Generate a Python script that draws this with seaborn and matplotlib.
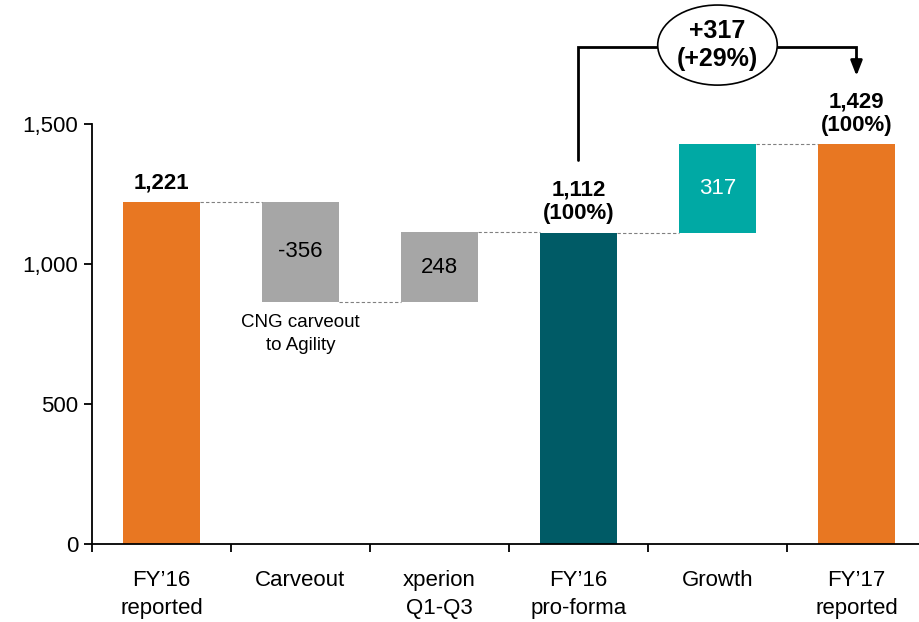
import numpy as np
import pandas as pd
import matplotlib.pyplot as plt
import seaborn as sns
from matplotlib.patches import Ellipse

# waterfall data (EUR m)
steps = ["FY\u201916\nreported", "Carveout", "xperion\nQ1-Q3",
         "FY\u201916\npro-forma", "Growth", "FY\u201917\nreported"]
amounts = [1221, -356, 248, 1112, 317, 1429]
kinds = ["total", "delta", "delta", "total", "delta", "total"]
bar_labels = ["1,221", "-356", "248", "1,112\n(100%)", "317", "1,429\n(100%)"]
colors = ["#E87722", "#A6A6A6", "#A6A6A6", "#005B66", "#00A9A4", "#E87722"]
growth_label = "+317\n(+29%)"
note = "CNG carveout\nto Agility"

# work out bottoms / tops of every bar
bottoms, tops = [], []
running = 0
for a, k in zip(amounts, kinds):
    if k == "total":
        bottoms.append(0)
        tops.append(a)
        running = a
    else:
        lo, hi = sorted([running, running + a])
        bottoms.append(lo)
        tops.append(hi)
        running = running + a

df = pd.DataFrame({"step": steps, "height": np.array(tops) - np.array(bottoms)})

sns.set_style("white")
plt.rcParams["font.family"] = ["Liberation Sans", "DejaVu Sans"]
plt.rcParams["text.color"] = "black"
plt.rcParams["xtick.color"] = "black"
plt.rcParams["ytick.color"] = "black"

fig = plt.figure(figsize=(9.19, 6.22), dpi=100)
ax = fig.add_axes([0.1001, 0.1254, 0.9075, 0.8746])

bw = 0.56
sns.barplot(data=df, x="step", y="height", hue="step", palette=colors,
            width=bw, saturation=1, legend=False, ax=ax)
# move the floating bars up to their base
for patch, b in zip(ax.patches, bottoms):
    patch.set_y(b)
    patch.set_linewidth(0)

# dashed connectors
levels = []
running = 0
for a, k in zip(amounts, kinds):
    running = a if k == "total" else running + a
    levels.append(running)
for i in range(len(steps) - 1):
    ax.hlines(levels[i], i + bw / 2, i + 1 - bw / 2, colors="#808080",
              linestyles=(0, (3, 2)), linewidth=0.8)

# value labels
for i, (lab, k) in enumerate(zip(bar_labels, kinds)):
    if k == "total":
        ax.text(i, tops[i] + 30, lab, ha="center", va="bottom",
                fontsize=16, fontweight="bold", linespacing=1.15)
    else:
        c = "white" if i == 4 else "black"
        ax.text(i, (bottoms[i] + tops[i]) / 2, lab, ha="center", va="center",
                fontsize=16, color=c)
ax.text(1, bottoms[1] - 45, note, ha="center", va="top", fontsize=13.5,
        linespacing=1.4)

# growth bracket from pro-forma to FY'17
y_br = 1775
ax.plot([3, 3, 5, 5], [1371, y_br, y_br, 1730], color="black", lw=2,
        solid_joinstyle="miter")
ax.annotate("", xy=(5, 1672), xytext=(5, 1735),
            arrowprops=dict(arrowstyle="-|>,head_width=0.35,head_length=0.9",
                            color="black", lw=2, shrinkA=0, shrinkB=0))
ax.add_patch(Ellipse((4, 1782), 0.86, 286, facecolor="white",
                     edgecolor="black", lw=1.2, zorder=3))
ax.text(4, 1782, growth_label, ha="center", va="center", fontsize=18,
        fontweight="bold", zorder=4, linespacing=1.25)

# axes styling
ax.set_xlim(-0.5, 5.5)
ax.set_ylim(0, 1943)
ax.set_yticks([0, 500, 1000, 1500])
ax.set_yticklabels([f"{v:,}" for v in [0, 500, 1000, 1500]])
ax.set_xlabel("")
ax.set_ylabel("")
sns.despine(ax=ax)
ax.spines["left"].set_bounds(0, 1500)
for s in ["left", "bottom"]:
    ax.spines[s].set_linewidth(1.3)
    ax.spines[s].set_color("black")
ax.set_xticks(np.arange(-0.5, 5.5, 1), minor=True)
ax.tick_params(axis="x", which="major", length=0, pad=19, labelsize=16)
ax.tick_params(axis="x", which="minor", length=6, width=1.3, color="black",
               direction="out", bottom=True)
ax.tick_params(axis="y", length=6, width=1.3, color="black", direction="out",
               left=True, pad=4, labelsize=16)
for t in ax.get_xticklabels():
    t.set_linespacing(1.4)

fig.savefig("out.png", dpi=100)
